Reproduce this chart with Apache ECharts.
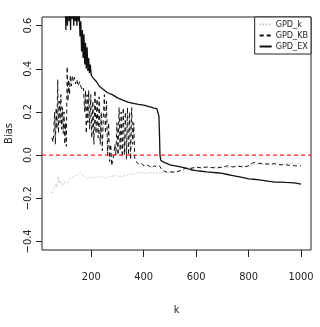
<!DOCTYPE html>
<html>
<head>
<meta charset="utf-8">
<script src="https://cdn.jsdelivr.net/npm/echarts@6/dist/echarts.min.js"></script>
<style>
  html, body { margin: 0; padding: 0; background: #fff; }
  #chart { width: 320px; height: 327px; }
</style>
</head>
<body>
<div id="chart"></div>
<script>
// GPD_k (grey dotted)
const kK = [50, 55, 60, 65, 70, 74, 78, 82, 86, 90, 95, 100, 110, 120, 130, 140, 150, 157, 165, 175, 185, 195, 210, 230, 250, 270, 290, 310, 330, 350, 370, 390, 410, 430, 450, 470, 490, 510, 530, 550, 570, 590, 610, 630, 650, 670, 690, 710, 730, 750, 770, 790, 810, 830, 850, 870, 890, 910, 930, 950, 970, 990, 1000]
const kVal = [-0.175, -0.16, -0.15, -0.13, -0.15, -0.1, -0.13, -0.12, -0.14, -0.13, -0.14, -0.12, -0.13, -0.11, -0.1, -0.095, -0.09, -0.08, -0.09, -0.1, -0.11, -0.1, -0.105, -0.1, -0.105, -0.1, -0.095, -0.1, -0.095, -0.09, -0.085, -0.08, -0.085, -0.08, -0.085, -0.08, -0.08, -0.075, -0.075, -0.07, -0.06, -0.058, -0.06, -0.055, -0.06, -0.055, -0.055, -0.06, -0.055, -0.05, -0.05, -0.05, -0.045, -0.045, -0.042, -0.045, -0.04, -0.04, -0.042, -0.04, -0.038, -0.04, -0.04]

// GPD_KB (black dashed)
const kbK = [50, 54, 57, 60, 63, 66, 69, 72, 75, 78, 81, 84, 87, 90, 93, 96, 99, 102, 105, 108, 111, 114, 117, 120, 124, 128, 132, 136, 140, 145, 150, 155, 160, 165, 170, 175, 178, 181, 184, 187, 190, 194, 198, 202, 206, 210, 214, 218, 222, 226, 230, 234, 238, 242, 246, 250, 254, 258, 262, 266, 270, 274, 278, 282, 286, 290, 294, 298, 302, 306, 310, 314, 318, 322, 326, 330, 334, 338, 342, 346, 350, 354, 358, 362, 366, 370, 380, 390, 400, 410, 420, 430, 440, 450, 460, 470, 480, 490, 500, 520, 540, 560, 580, 600, 620, 640, 660, 680, 700, 720, 740, 760, 780, 800, 810, 820, 840, 860, 880, 900, 920, 940, 960, 980, 1000]
const kbVal = [0.08, 0.06, 0.1, 0.2, 0.05, 0.22, 0.12, 0.35, 0.1, 0.25, 0.15, 0.28, 0.12, 0.22, 0.1, 0.2, 0.05, 0.15, 0.04, 0.41, 0.25, 0.35, 0.28, 0.37, 0.32, 0.37, 0.34, 0.36, 0.33, 0.35, 0.32, 0.34, 0.32, 0.3, 0.31, 0.2, 0.3, 0.1, 0.28, 0.15, 0.3, 0.12, 0.28, 0.08, 0.25, 0.05, 0.3, 0.1, 0.26, 0.08, 0.27, 0.05, 0.2, 0.02, 0.18, 0.28, 0.1, 0.25, 0.0, 0.15, -0.03, 0.05, -0.05, -0.02, 0.0, 0.05, 0.0, 0.15, 0.0, 0.22, 0.02, 0.2, -0.01, 0.22, 0.0, 0.2, -0.02, 0.22, 0.0, 0.2, -0.02, 0.22, 0.05, 0.15, -0.02, -0.03, -0.04, -0.035, -0.05, -0.045, -0.05, -0.06, -0.05, -0.055, -0.05, -0.07, -0.075, -0.08, -0.078, -0.08, -0.072, -0.06, -0.062, -0.055, -0.06, -0.055, -0.058, -0.06, -0.055, -0.05, -0.055, -0.052, -0.055, -0.05, -0.04, -0.035, -0.038, -0.04, -0.042, -0.04, -0.045, -0.045, -0.048, -0.05, -0.05]

// GPD_EX (black solid)
const exK = [50, 60, 70, 80, 90, 100, 103, 106, 109, 112, 115, 118, 121, 124, 127, 130, 133, 136, 139, 142, 145, 148, 151, 154, 157, 160, 163, 166, 169, 172, 175, 178, 181, 184, 187, 190, 193, 196, 200, 205, 210, 220, 230, 240, 250, 260, 280, 300, 320, 340, 360, 380, 400, 420, 440, 450, 455, 458, 460, 462, 465, 470, 480, 490, 500, 520, 540, 560, 580, 600, 620, 640, 660, 680, 700, 720, 740, 760, 780, 800, 820, 840, 860, 880, 900, 920, 940, 960, 980, 1000]
const exVal = [0.9, 0.85, 0.85, 0.8, 0.8, 0.75, 0.58, 0.8, 0.6, 0.8, 0.62, 0.75, 0.58, 0.8, 0.63, 0.78, 0.6, 0.72, 0.62, 0.75, 0.6, 0.7, 0.62, 0.66, 0.55, 0.62, 0.48, 0.58, 0.45, 0.56, 0.42, 0.52, 0.4, 0.5, 0.39, 0.45, 0.38, 0.42, 0.37, 0.36, 0.355, 0.34, 0.32, 0.31, 0.3, 0.29, 0.28, 0.265, 0.255, 0.245, 0.24, 0.235, 0.232, 0.225, 0.218, 0.215, 0.21, 0.18, 0.1, 0.0, -0.025, -0.03, -0.035, -0.04, -0.045, -0.05, -0.055, -0.06, -0.068, -0.072, -0.075, -0.078, -0.08, -0.082, -0.085, -0.09, -0.095, -0.1, -0.105, -0.11, -0.112, -0.115, -0.118, -0.122, -0.125, -0.125, -0.127, -0.128, -0.13, -0.135]

const xTicks = [200, 400, 600, 800, 1000]
const yTicks = [-0.4, -0.2, 0.0, 0.2, 0.4, 0.6]

const font = "'Liberation Sans Narrow', 'DejaVu Sans Condensed', sans-serif"
const pairs = (xs, ys) => xs.map((x, i) => [x, ys[i]])

const chart = echarts.init(document.getElementById('chart'))
chart.setOption({
  animation: false,
  textStyle: { fontFamily: font },
  grid: {
    left: 42, right: 9, top: 17, bottom: 77,
    outerBoundsMode: 'none',
    containLabel: false,
    show: true, borderColor: '#222', borderWidth: 1
  },
  legend: {
    orient: 'vertical',
    right: 9,
    top: 17,
    itemWidth: 12,
    itemHeight: 10,
    itemGap: 2,
    padding: [3, 3, 3, 4],
    borderColor: '#222',
    borderWidth: 1,
    backgroundColor: '#fff',
    itemStyle: { opacity: 0 },
    textStyle: { fontFamily: font, fontSize: 9, color: '#222', padding: [0, 0, 0, -1] },
    data: ['GPD_k', 'GPD_KB', 'GPD_EX']
  },
  xAxis: {
    type: 'value',
    min: 12,
    max: 1038,
    name: 'k',
    nameLocation: 'middle',
    nameGap: 55,
    nameTextStyle: { fontFamily: font, fontSize: 11, color: '#222' },
    axisLine: { show: false, onZero: false },
    splitLine: { show: false },
    axisTick: { show: true, length: 7, customValues: xTicks, lineStyle: { color: '#222', width: 1 } },
    axisLabel: {
      customValues: xTicks, margin: 22, fontSize: 11, color: '#222', fontFamily: font,
      formatter: v => String(v)
    }
  },
  yAxis: {
    type: 'value',
    min: -0.44,
    max: 0.64,
    name: 'Bias',
    nameLocation: 'middle',
    nameGap: 27,
    nameRotate: 90,
    nameTextStyle: { fontFamily: font, fontSize: 11, color: '#222' },
    axisLine: { show: false, onZero: false },
    splitLine: { show: false },
    axisTick: { show: true, length: 6, customValues: yTicks, lineStyle: { color: '#222', width: 1 } },
    axisLabel: {
      customValues: yTicks,
      rotate: 90,
      margin: 8,
      fontSize: 11,
      color: '#222',
      fontFamily: font,
      formatter: v => v.toFixed(1).replace('-', '\u2212')
    }
  },
  series: [
    {
      name: 'GPD_k',
      type: 'line',
      data: pairs(kK, kVal),
      symbol: 'none',
      color: '#aaaaaa',
      lineStyle: { color: '#aaaaaa', width: 1, type: [1, 2] }
    },
    {
      name: 'GPD_KB',
      type: 'line',
      data: pairs(kbK, kbVal),
      symbol: 'none',
      color: '#111',
      lineStyle: { color: '#111', width: 1, type: [4, 3] }
    },
    {
      name: 'GPD_EX',
      type: 'line',
      data: pairs(exK, exVal),
      symbol: 'none',
      color: '#111',
      lineStyle: { color: '#111', width: 1.3 }
    },
    {
      name: 'zero',
      type: 'line',
      data: [[12, 0], [1038, 0]],
      symbol: 'none',
      silent: true,
      z: 5,
      lineStyle: { color: '#ff2020', width: 1.3, type: [4, 3] }
    }
  ]
})
</script>
</body>
</html>
